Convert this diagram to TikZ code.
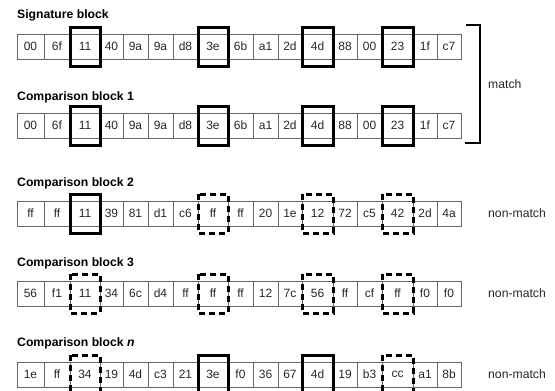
\documentclass[tikz,border=0pt]{standalone}
\usepackage{fontspec}
\setmainfont{Liberation Sans}
\newcommand{\byterow}[3]{%
  \foreach \t [count=\i] in {#3} {%
    \pgfmathsetmacro{\cxl}{{17,44,70,100,123,148,173,198,228,253,278,302,333,357,382,413,437,461}[\i-1]}%
    \pgfmathsetmacro{\cxr}{{17,44,70,100,123,148,173,198,228,253,278,302,333,357,382,413,437,461}[\i]}%
    \pgfmathsetmacro{\cwid}{\cxr-\cxl}%
    \node[cell, minimum width=\cwid pt] (#1-\i) at (\cxl,#2) {\t};
  }%
}
\newcommand{\hlbox}[2]{%
  \draw[#1] ([yshift=7pt]#2.north west) rectangle ([yshift=-7pt]#2.south east);
}
\begin{document}
\begin{tikzpicture}[x=1pt,y=-1pt,
  cell/.style={draw=black!60, line width=0.8pt, inner sep=0pt, outer sep=0pt, anchor=north west,
    minimum height=25pt, font=\fontsize{12}{13}\selectfont, text=black!85},
  hlsolid/.style={draw=black, line width=3pt},
  hldash/.style={draw=black, line width=3pt, dash pattern=on 6pt off 4pt},
  title/.style={anchor=west, inner sep=0pt, font=\fontsize{12.2}{14}\selectfont\bfseries},
  lab/.style={anchor=west, inner sep=0pt, font=\fontsize{12.2}{14}\selectfont, text=black!85},
  bracket/.style={draw=black, line width=2pt}]
\useasboundingbox (0,0) rectangle (555,391);

\node[title] (t0) at (17,15) {Signature block};
\node[title] (t1) at (17,97) {Comparison block 1};
\node[title] (t2) at (17,183) {Comparison block 2};
\node[title] (t3) at (17,263) {Comparison block 3};
\node[title] (tn) at (17,343) {Comparison block \textit{n}};

\byterow{s}{34}{00,6f,11,40,9a,9a,d8,3e,6b,a1,2d,4d,88,00,23,1f,c7}
\byterow{a}{113}{00,6f,11,40,9a,9a,d8,3e,6b,a1,2d,4d,88,00,23,1f,c7}
\byterow{b}{201}{ff,ff,11,39,81,d1,c6,ff,ff,20,1e,12,72,c5,42,2d,4a}
\byterow{c}{281}{56,f1,11,34,6c,d4,ff,ff,ff,12,7c,56,ff,cf,ff,f0,f0}
\byterow{n}{362}{1e,ff,34,19,4d,c3,21,3e,f0,36,67,4d,19,b3,cc,a1,8b}

\hlbox{hlsolid}{s-3}\hlbox{hlsolid}{s-8}\hlbox{hlsolid}{s-12}\hlbox{hlsolid}{s-15}
\hlbox{hlsolid}{a-3}\hlbox{hlsolid}{a-8}\hlbox{hlsolid}{a-12}\hlbox{hlsolid}{a-15}
\hlbox{hlsolid}{b-3}\hlbox{hldash}{b-8}\hlbox{hldash}{b-12}\hlbox{hldash}{b-15}
\hlbox{hldash}{c-3}\hlbox{hldash}{c-8}\hlbox{hldash}{c-12}\hlbox{hldash}{c-15}
\hlbox{hldash}{n-3}\hlbox{hlsolid}{n-8}\hlbox{hlsolid}{n-12}\hlbox{hldash}{n-15}

\coordinate (bt) at (466,25);
\coordinate (bb) at (465,143);
\draw[bracket] (bt) -- (480,25) -- (480,143) -- (bb);

\node[lab] (m) at (488,84) {match};
\node[lab] (nm2) at (488,213) {non-match};
\node[lab] (nm3) at (488,293) {non-match};
\node[lab] (nmn) at (488,374) {non-match};
\end{tikzpicture}
\end{document}
